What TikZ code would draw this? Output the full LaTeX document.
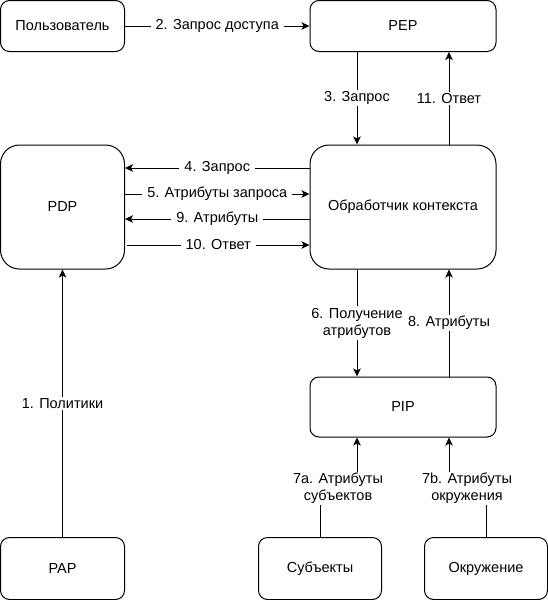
\documentclass[tikz,border=0pt]{standalone}
\usepackage{fontspec}
\setmainfont{Liberation Sans}
\usetikzlibrary{arrows.meta}
\tikzset{
  box/.style={draw, line width=1pt, inner sep=0pt, align=center},
  small/.style={box, rounded corners=9pt},
  big/.style={box, rounded corners=19pt},
  lbl/.style={fill=white, inner xsep=5pt, inner ysep=1.5pt, align=center},
}
\begin{document}
\begin{tikzpicture}[x=1pt, y=-1pt, >={Stealth[length=8pt,width=7.5pt,inset=2pt]}, line width=1pt,
  font=\fontsize{14.5}{17}\selectfont]
\useasboundingbox (0,0) rectangle (548,600);
% blocks
\node[small, minimum width=124pt, minimum height=51pt] (user) at (62.5,26) {Пользователь};
\node[small, minimum width=186pt, minimum height=51pt] (pep) at (403,26) {PEP};
\node[big, minimum width=124pt, minimum height=124pt] (pdp) at (62.5,207) {PDP};
\node[big, minimum width=186pt, minimum height=124pt] (ctx) at (403,207) {Обработчик контекста};
\node[small, minimum width=186pt, minimum height=60pt] (pip) at (403,407) {PIP};
\node[small, minimum width=124pt, minimum height=62pt] (pap) at (62.5,568.5) {PAP};
\node[small, minimum width=123pt, minimum height=62pt] (subj) at (320,568.5) {Субъекты};
\node[small, minimum width=123pt, minimum height=62pt] (env) at (486,568.5) {Окружение};
% arrows
\draw[->] (user.east) -- node[lbl] (l2) {2. Запрос доступа} (pep.west);
\draw[->] ([xshift=-46pt]pep.south) -- node[lbl] (l3) {3. Запрос} ([xshift=-46pt]ctx.north);
\draw[->] ([xshift=46pt]ctx.north) -- node[lbl] (l11) {11. Ответ} ([xshift=46pt]pep.south);
\draw[->] ([yshift=39pt]ctx.west) -- node[lbl] (l4) {4. Запрос} ([yshift=39pt]pdp.east);
\draw[->] ([yshift=13pt]pdp.east) -- node[lbl] (l5) {5. Атрибуты запроса} ([yshift=13pt]ctx.west);
\draw[->] ([yshift=-12pt]ctx.west) -- node[lbl] (l9) {9. Атрибуты} ([yshift=-12pt]pdp.east);
\draw[->] ([yshift=-38pt,xshift=2pt]pdp.east) -- node[lbl] (l10) {10. Ответ} ([yshift=-38pt]ctx.west);
\draw[->] ([xshift=-46pt]ctx.south) -- node[lbl] (l6) {6. Получение\\атрибутов} ([xshift=-46pt]pip.north);
\draw[->] ([xshift=46pt]pip.north) -- node[lbl] (l8) {8. Атрибуты} ([xshift=46pt]ctx.south);
\draw[->] (pap.north) -- node[lbl] (l1) {1. Политики} (pdp.south);
\coordinate (c7a) at (338,488.5);
\coordinate (c7b) at (467,488.5);
\draw[->] (subj.north) |- (c7a) -| ([xshift=-46pt]pip.south);
\draw[->] (env.north) |- (c7b) -| ([xshift=46pt]pip.south);
\node[lbl] (l7a) at (c7a) {7a. Атрибуты\\субъектов};
\node[lbl] (l7b) at (c7b) {7b. Атрибуты\\окружения};
\end{tikzpicture}
\end{document}
